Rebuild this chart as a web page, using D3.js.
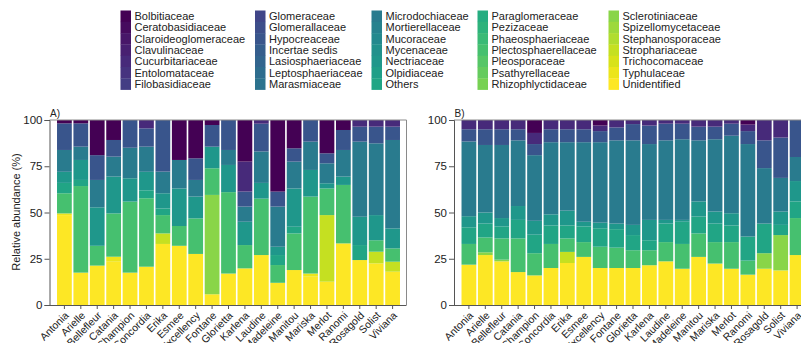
<!DOCTYPE html>
<html><head><meta charset="utf-8">
<script src="https://cdn.jsdelivr.net/npm/d3@7"></script>
<style>
body{margin:0;background:#fff}
svg{display:block}
text{font-family:"Liberation Sans",Arial,sans-serif}
</style>
</head><body>
<svg id="c" width="801" height="343"></svg>
<script>
const families = ["Bolbitiaceae","Ceratobasidiaceae","Claroideoglomeraceae","Clavulinaceae","Cucurbitariaceae","Entolomataceae","Filobasidiaceae",
"Glomeraceae","Glomerallaceae","Hypocreaceae","Incertae sedis","Lasiosphaeriaceae","Leptosphaeriaceae","Marasmiaceae",
"Microdochiaceae","Mortierellaceae","Mucoraceae","Mycenaceae","Nectriaceae","Olpidiaceae","Others",
"Paraglomeraceae","Pezizaceae","Phaeosphaeriaceae","Plectosphaerellaceae","Pleosporaceae","Psathyrellaceae","Rhizophlyctidaceae",
"Sclerotiniaceae","Spizellomycetaceae","Stephanosporaceae","Strophariaceae","Trichocomaceae","Typhulaceae","Unidentified"];
const cultivars = ["Antonia","Arielle","Bellefleur","Catania","Champion","Concordia","Erika","Esmee","Excellency","Fontane","Glorietta","Karlena","Laudine","Madeleine","Manitou","Mariska","Merlot","Ranomi","Rosagold","Solist","Viviana"];
const yTicks = [0,25,50,75,100];
const yTitle = "Relative abundance (%)";

// Panel A values (%), cultivar order
const A_Unidentified        = [48.6,17.5,21.3,23.4,17.5,20.7,33.0,32.0,27.6,5.8,17.0,19.8,27.0,12.0,18.9,15.3,12.6,33.3,24.3,22.5,18.0];
const A_Typhulaceae         = [0.9,0,0,2.7,0,0,0,0,0,0,0,0,0,0,0,1.7,0,0,0,0,0];
const A_Strophariaceae      = [0,0,0,0,0,0,5.7,0,0,0,0,0,0,0,0,0,36.0,0,0,6.3,5.4];
const A_Sclerotiniaceae     = [0,0,0,0,0,0,0,0,0,53.7,0,0,0,0,0,0,0,0,0,0,0];
const A_Plectosphaerellaceae= [10.9,46.8,10.7,23.4,38.4,37.0,9.9,10.7,19.2,14.4,44.0,12.6,30.5,9.6,19.8,41.6,14.4,31.6,0,6.2,7.2];
const A_Others              = [5.6,3.3,0,0,0,4.3,3.6,0,0,0,0,0,0,5.4,3.6,0,0,0,8.1,0,0];
const A_Nectriaceae         = [6.0,10.8,20.8,19.9,12.6,10.0,8.2,20.3,11.8,11.7,14.7,12.6,8.5,4.5,20.7,14.4,2.8,4.5,15.3,13.6,10.8];
const A_Microdochiaceae     = [11.8,7.2,14.8,10.8,16.5,13.6,11.7,15.4,9.0,0,8.1,8.2,17.0,21.7,14.5,15.3,10.8,14.4,40.6,38.8,47.8];
const A_Hypocreaceae        = [14.4,12.6,13.4,9.0,15.0,9.9,27.9,0,11.7,11.7,16.2,8.1,15.0,8.1,7.2,11.7,5.4,10.8,8.1,9.0,7.2];
const A_Cucurbitariaceae    = [0,0,0,0,0,4.5,0,0,0,0,0,16.2,2.0,0,0,0,0,0,3.6,3.6,3.6];
const A_Bolbitiaceae        = [1.8,1.8,19.0,10.8,0,0,0,21.6,20.7,2.7,0,22.5,0,38.7,15.3,0,18.0,5.4,0,0,0];

// Panel B values (%), cultivar order
const B_Unidentified        = [21.8,27.0,23.6,17.8,16.0,20.0,22.7,26.0,20.0,20.0,20.0,21.5,23.6,19.6,26.0,22.4,19.6,16.4,19.6,18.7,27.0];
const B_Strophariaceae      = [0,0,0,0,0,0,6.0,0,0,0,0,0,0,0,0,0,0,0,0,0,0];
const B_Sclerotiniaceae     = [0,1.5,0.9,0,0,0,0,0,0,0,0,0,0,0,0,0,0,0,8.4,19.1,0];
const B_Plectosphaerellaceae= [11.2,8.0,11.5,18.2,12.0,13.0,7.3,8.0,11.5,11.0,9.6,8.1,10.4,13.4,12.7,11.6,14.4,7.6,0,0,20.0];
const B_Others              = [9.0,7.5,6.5,10.0,10.0,10.0,7.0,8.5,10.0,10.0,8.2,5.4,10.0,12.0,9.1,10.0,9.0,13.0,16.0,5.5,9.0];
const B_Nectriaceae         = [6.0,6.0,4.5,7.5,7.5,6.0,8.0,2.5,3.0,3.0,5.5,11.0,2.0,1.0,8.2,6.5,6.6,0,0,7.2,11.0];
const B_Microdochiaceae     = [40.4,36.5,39.5,35.5,35.5,39.0,37.0,43.0,43.5,45.0,45.7,41.0,43.0,43.6,33.0,39.1,41.9,50.0,30.0,18.2,13.0];
const B_Hypocreaceae        = [6.6,8.5,8.5,6.0,6.0,7.0,7.0,7.0,6.0,7.0,8.8,10.0,9.0,8.4,7.4,6.8,6.5,7.0,15.0,21.8,20.0];
const B_Cucurbitariaceae    = [5.0,5.0,5.0,5.0,6.0,5.0,5.0,5.0,3.0,4.0,2.2,3.0,2.0,2.0,3.6,3.6,2.0,3.5,11.0,9.5,0];
const B_Bolbitiaceae        = [0,0,0,0,7.0,0,0,0,3.0,0,0,0,0,0,0,0,0,2.5,0,0,0];

const panels = [
  {label:"A)", dx:0, series:{Unidentified:A_Unidentified,Typhulaceae:A_Typhulaceae,Strophariaceae:A_Strophariaceae,Sclerotiniaceae:A_Sclerotiniaceae,
    Plectosphaerellaceae:A_Plectosphaerellaceae,Others:A_Others,Nectriaceae:A_Nectriaceae,Microdochiaceae:A_Microdochiaceae,
    Hypocreaceae:A_Hypocreaceae,Cucurbitariaceae:A_Cucurbitariaceae,Bolbitiaceae:A_Bolbitiaceae}},
  {label:"B)", dx:404.5, series:{Unidentified:B_Unidentified,Strophariaceae:B_Strophariaceae,Sclerotiniaceae:B_Sclerotiniaceae,
    Plectosphaerellaceae:B_Plectosphaerellaceae,Others:B_Others,Nectriaceae:B_Nectriaceae,Microdochiaceae:B_Microdochiaceae,
    Hypocreaceae:B_Hypocreaceae,Cucurbitariaceae:B_Cucurbitariaceae,Bolbitiaceae:B_Bolbitiaceae}}
];

const svg = d3.select("#c");
const color = d3.scaleOrdinal(families, families.map((d,i)=>d3.interpolateViridis(i/(families.length-1))));

// Legend
const legX = [120.5, 255, 371.5, 477.5, 608.5];
const rowH = 11.3, legY0 = 10.5;
families.forEach((f,i)=>{
  const c = Math.floor(i/7), r = i%7;
  const g = svg.append("g").attr("transform",`translate(${legX[c]},${legY0 + r*rowH})`);
  g.append("rect").attr("width",10.5).attr("height",rowH+0.3).attr("fill",color(f));
  g.append("text").attr("x",14).attr("y",rowH/2).attr("dy","0.35em")
    .attr("font-size",11).attr("fill","#222").text(f);
});

const y = d3.scaleLinear().domain([0,100]).range([305,120]);
const xBase = d3.scaleBand().domain(cultivars).range([56.2,400.8]).paddingInner(0.1).paddingOuter(0.05);
const keys = families.slice().reverse();

panels.forEach(p=>{
  const g = svg.append("g").attr("transform",`translate(${p.dx},0)`);
  const rows = cultivars.map((c,j)=>{
    const o = {cultivar:c};
    keys.forEach(k=>{ o[k] = p.series[k] ? p.series[k][j] : 0; });
    return o;
  });
  const stacked = d3.stack().keys(keys)(rows);
  g.append("g").selectAll("g").data(stacked).join("g")
    .attr("fill",d=>color(d.key))
    .selectAll("rect").data(d=>d.filter(v=>v[1]-v[0]>0)).join("rect")
      .attr("x",d=>xBase(d.data.cultivar))
      .attr("width",xBase.bandwidth())
      .attr("y",d=>y(d[1]))
      .attr("height",d=>y(d[0])-y(d[1]));

  g.append("path").attr("d",`M49.5,${y(100)}H406.5V${y(0)}`).attr("fill","none").attr("stroke","#8a8a8a").attr("stroke-width",1);

  const ya = g.append("g").attr("transform","translate(49.5,0)")
    .call(d3.axisLeft(y).tickValues(yTicks).tickSize(5).tickPadding(2));
  ya.selectAll("text").attr("font-size",11.5).attr("fill","#222").style("font-family","'Liberation Sans',Arial,sans-serif");
  ya.selectAll("line,path").attr("stroke","#555");

  const xa = g.append("g").attr("transform",`translate(0,${y(0)})`)
    .call(d3.axisBottom(xBase).tickSize(4).tickSizeOuter(0));
  xa.select(".domain").attr("d",`M49.5,0.5H406.5`).attr("stroke","#555");
  xa.selectAll("line").attr("stroke","#555");
  xa.selectAll("text").attr("font-size",10.5).attr("fill","#222")
    .style("font-family","'Liberation Sans',Arial,sans-serif")
    .attr("text-anchor","end").attr("dy",0).attr("y",0)
    .attr("transform","translate(5,11) rotate(-45)");

  g.append("text").attr("x",50).attr("y",117).attr("font-size",10).attr("fill","#222").text(p.label);
});

svg.append("text").attr("transform","translate(20,212) rotate(-90)").attr("text-anchor","middle")
  .attr("font-size",11).attr("fill","#222").text(yTitle);
</script>
</body></html>
